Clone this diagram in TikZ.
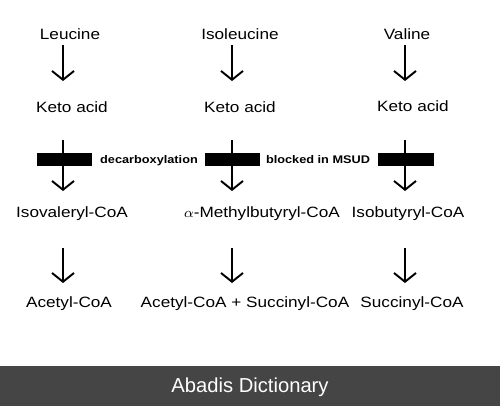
\documentclass[tikz,border=0pt]{standalone}
\usepackage{fontspec}
\setmainfont{Liberation Sans}
\newfontfamily\widefont{Liberation Sans}[FakeStretch=1.15]
\usepackage{xcolor}
\usetikzlibrary{arrows.meta}

\definecolor{footbg}{HTML}{454545}

\begin{document}
\begin{tikzpicture}[x=0.02cm, y=-0.02cm,
    chem/.style={anchor=base, inner sep=0pt, font=\widefont\fontsize{8.5}{10}\selectfont},
    note/.style={anchor=base, inner sep=0pt, font=\widefont\bfseries\fontsize{6.3}{8}\selectfont},
    flow/.style={line width=1.1pt, -{Straight Barb[length=5pt, width=12.5pt, line width=1.1pt]}}]
  \useasboundingbox[fill=white] (0,0) rectangle (500,406);

  % amino acids
  \node[chem] (leu) at (70,39) {Leucine};
  \node[chem] (ile) at (240,39) {Isoleucine};
  \node[chem] (val) at (407,39) {Valine};

  % keto acids
  \node[chem] (ketoL) at (72,112) {Keto acid};
  \node[chem] (ketoI) at (240,112) {Keto acid};
  \node[chem] (ketoV) at (413,111) {Keto acid};

  % acyl-CoA
  \node[chem] (ivcoa) at (72,217) {Isovaleryl-CoA};
  \node[chem] (mbcoa) at (262,217) {$\alpha$-Methylbutyryl-CoA};
  \node[chem] (ibcoa) at (408,217) {Isobutyryl-CoA};

  % end products
  \node[chem] (acL) at (69,307) {Acetyl-CoA};
  \node[chem] (acsuc) at (245,307) {Acetyl-CoA + Succinyl-CoA};
  \node[chem] (sucV) at (412,307) {Succinyl-CoA};

  % arrows
  \foreach \x/\n in {63/L, 232/I, 405/V} {
    \coordinate (top\n) at (\x,45);
    \coordinate (mid\n) at (\x,81);
    \coordinate (dtop\n) at (\x,140);
    \coordinate (dend\n) at (\x,191);
    \coordinate (btop\n) at (\x,248);
    \coordinate (bend\n) at (\x,283);
    \draw[flow] (top\n) -- (mid\n);
    \draw[flow] (dtop\n) -- (dend\n);
    \draw[flow] (btop\n) -- (bend\n);
  }

  % blocks
  \fill (36.5,153) rectangle (91.5,166);
  \fill (205,153) rectangle (260,166);
  \fill (378,153) rectangle (434,166);
  \node[note] (decarb) at (149,163) {decarboxylation};
  \node[note] (msud) at (318,163) {blocked in MSUD};

  % footer
  \fill[footbg] (0,366) rectangle (500,406);
  \node[anchor=base, inner sep=0pt, text=white, font=\fontsize{11.5}{14}\selectfont] (footer) at (250,392) {Abadis Dictionary};
\end{tikzpicture}
\end{document}
